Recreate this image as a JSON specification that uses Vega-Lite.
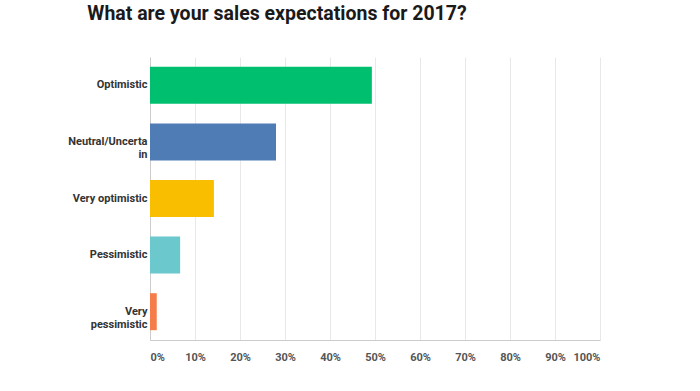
{
  "$schema": "https://vega.github.io/schema/vega-lite/v6.json",
  "width": 450,
  "height": 283,
  "autosize": {"type": "none"},
  "padding": {"left": 150, "top": 57, "right": 100, "bottom": 51},
  "background": "white",
  "title": {
    "text": "What are your sales expectations for 2017?",
    "anchor": "middle",
    "dx": -98,
    "fontSize": 19.5,
    "font": "Roboto",
    "fontWeight": "bold",
    "color": "#1a1a1a",
    "baseline": "alphabetic",
    "offset": 18
  },
  "data": {
    "values": [
      {"answer": "Optimistic", "pct": 49.3},
      {"answer": "Neutral/Uncertain", "pct": 28.0},
      {"answer": "Very optimistic", "pct": 14.2},
      {"answer": "Pessimistic", "pct": 6.7},
      {"answer": "Very pessimistic", "pct": 1.5}
    ]
  },
  "mark": {"type": "bar"},
  "encoding": {
    "y": {
      "field": "answer",
      "type": "nominal",
      "sort": null,
      "scale": {"paddingInner": 0.346, "paddingOuter": 0.173},
      "axis": {
        "title": null,
        "labelExpr": "datum.value == 'Neutral/Uncertain' ? ['Neutral/Uncerta','in'] : datum.value == 'Very pessimistic' ? ['Very','pessimistic'] : datum.value",
        "ticks": false,
        "labelPadding": 3,
        "labelFont": "Roboto",
        "labelFontWeight": "bold",
        "labelFontSize": 11,
        "labelColor": "#333333",
        "labelLineHeight": 13,
        "domainColor": "#cccccc",
        "grid": false
      }
    },
    "x": {
      "field": "pct",
      "type": "quantitative",
      "scale": {"domain": [0, 100]},
      "axis": {
        "title": null,
        "values": [0, 10, 20, 30, 40, 50, 60, 70, 80, 90, 100],
        "labelExpr": "datum.value + '%'",
        "labelFlush": true,
        "ticks": false,
        "labelPadding": 11,
        "labelFont": "Roboto",
        "labelFontWeight": "bold",
        "labelFontSize": 11,
        "labelColor": "#555555",
        "gridColor": "#e8e8e8",
        "domainColor": "#cccccc"
      }
    },
    "color": {
      "field": "answer",
      "type": "nominal",
      "scale": {
        "domain": ["Optimistic", "Neutral/Uncertain", "Very optimistic", "Pessimistic", "Very pessimistic"],
        "range": ["#00bf6f", "#507cb6", "#f9be00", "#6bc8cd", "#f47d4a"]
      },
      "legend": null
    }
  },
  "config": {"view": {"stroke": null}}
}
